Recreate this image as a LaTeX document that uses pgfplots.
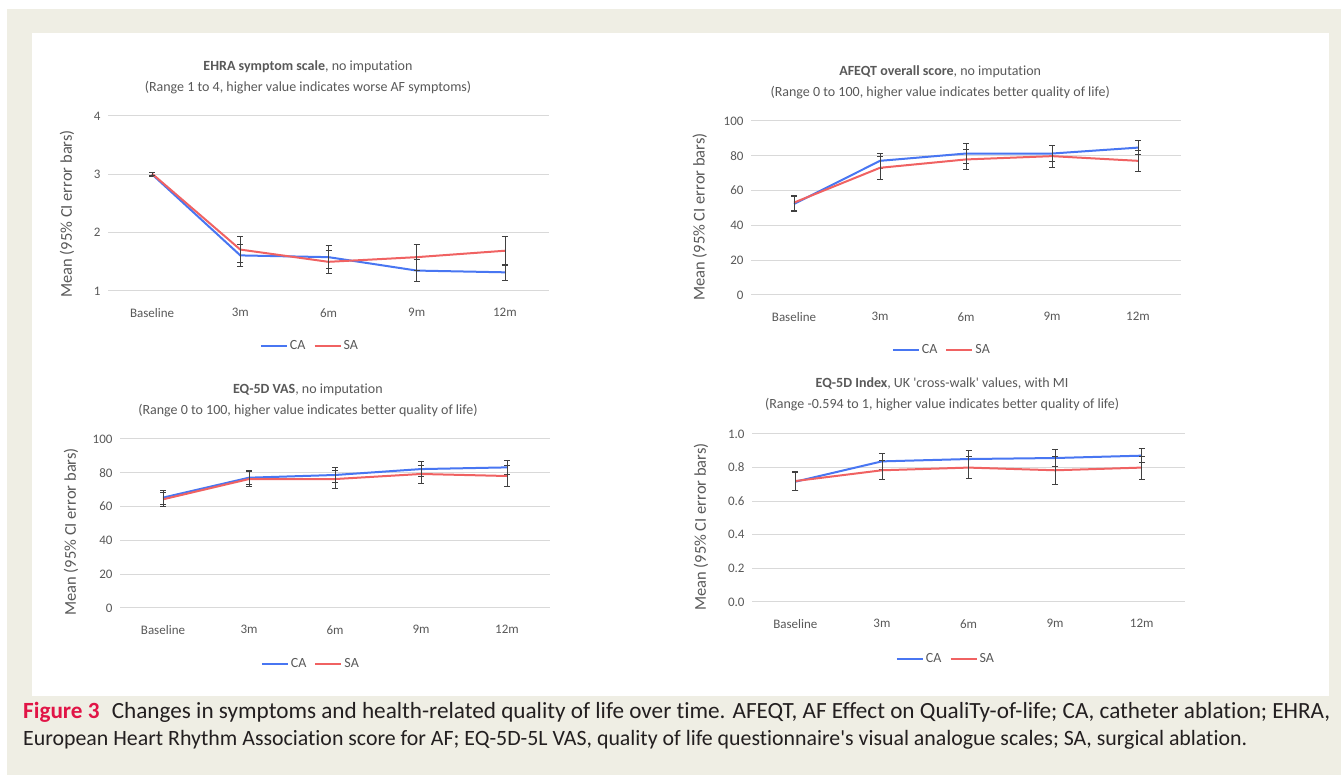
\documentclass[border=0pt]{standalone}
\usepackage{fontspec}
\setmainfont{Carlito}[Ligatures={TeX,NoCommon}]
\usepackage{pgfplots}
\pgfplotsset{compat=1.18}

\definecolor{bgbeige}{RGB}{239,238,228}
\definecolor{cablue}{RGB}{72,118,242}
\definecolor{sared}{RGB}{240,98,98}
\definecolor{txtgray}{RGB}{89,89,89}
\definecolor{gridgray}{RGB}{217,217,217}
\definecolor{errgray}{RGB}{64,64,64}
\definecolor{figred}{RGB}{225,20,70}
\definecolor{captxt}{RGB}{35,31,32}

\pgfplotsset{
  panel/.style={
    scale only axis,
    anchor=south west,
    xmin=-0.5, xmax=4.5,
    xtick={0,...,4},
    xticklabels={Baseline,3m,6m,9m,12m},
    axis line style={draw=none},
    major tick length=0pt,
    ymajorgrids,
    grid style={gridgray, line width=1pt},
    tick label style={font=\fontsize{13}{15}\selectfont, text=txtgray},
    /pgf/number format/assume math mode=true,
    xticklabel style={yshift=-14pt},
    yticklabel style={xshift=-4pt},
    ylabel={Mean (95\% CI error bars)},
    every axis y label/.style={rotate=90, anchor=center,
      font=\fontsize{16.5}{18}\selectfont, text=txtgray},
    title style={anchor=center, align=center,
      font=\fontsize{14}{21}\selectfont, text=txtgray},
    legend columns=2,
    legend style={draw=none, fill=none, anchor=center,
      font=\fontsize{14}{16}\selectfont, text=txtgray,
      /tikz/every even column/.append style={column sep=6pt}},
    legend image code/.code={\draw[##1] (0pt,0pt) -- (26pt,0pt);},
    error bars/y dir=both,
    error bars/y explicit,
    error bars/error bar style={errgray, line width=0.8pt},
    error bars/error mark options={rotate=90, errgray, mark size=3pt, line width=0.8pt},
  },
  ca/.style={cablue, line width=2pt, mark=none},
  sa/.style={sared, line width=2pt, mark=none},
}

\begin{document}
\begin{tikzpicture}[x=1pt,y=1pt]
  % page, beige frame and white chart panel
  \fill[white] (0,0) rectangle (1341,775);
  \fill[bgbeige] (7,0) rectangle (1341,766);
  \fill[white] (32,79) rectangle (1329,742);

  % EHRA symptom scale
  \begin{axis}[panel,
    at={(108pt,484pt)}, width=441pt, height=175pt,
    ymin=1, ymax=4, ytick={1,2,3,4},
    title={\textbf{EHRA symptom scale}, no imputation\\(Range 1 to 4, higher value indicates worse AF symptoms)},
    title style={at={(axis description cs:0.4535,1.185)}},
    ylabel style={at={(axis description cs:-0.093,0.44)}},
    legend style={at={(axis description cs:0.458,-0.314)}},
  ]
    \addplot[ca] coordinates {
      (0,3.00) +- (0,0.03)
      (1,1.61) +- (0,0.19)
      (2,1.58) +- (0,0.195)
      (3,1.35) +- (0,0.185)
      (4,1.32) +- (0,0.14)
    };
    \addplot[sa] coordinates {
      (0,3.01) +- (0,0.03)
      (1,1.71) +- (0,0.225)
      (2,1.50) +- (0,0.195)
      (3,1.58) +- (0,0.22)
      (4,1.69) +- (0,0.25)
    };
    \legend{CA,SA}
  \end{axis}

  % AFEQT overall score
  \begin{axis}[panel,
    at={(751pt,480pt)}, width=430pt, height=174pt,
    ymin=0, ymax=100, ytick={0,20,...,100},
    title={\textbf{AFEQT overall score}, no imputation\\(Range 0 to 100, higher value indicates better quality of life)},
    title style={at={(axis description cs:0.44,1.187)}},
    ylabel style={at={(axis description cs:-0.119,0.448)}},
    legend style={at={(axis description cs:0.444,-0.316)}},
  ]
    \addplot[ca] coordinates {
      (0,52.3) +- (0,4.2)
      (1,77.1) +- (0,4.2)
      (2,81.3) +- (0,5.6)
      (3,81.3) +- (0,4.8)
      (4,84.7) +- (0,3.9)
    };
    \addplot[sa] coordinates {
      (0,53.1) +- (0,4.4)
      (1,73.1) +- (0,6.7)
      (2,77.9) +- (0,5.9)
      (3,79.8) +- (0,6.3)
      (4,77.1) +- (0,6.1)
    };
    \legend{CA,SA}
  \end{axis}

  % EQ-5D VAS
  \begin{axis}[panel,
    at={(120pt,167pt)}, width=430pt, height=169pt,
    ymin=0, ymax=100, ytick={0,20,...,100},
    title={\textbf{EQ-5D VAS}, no imputation\\(Range 0 to 100, higher value indicates better quality of life)},
    title style={at={(axis description cs:0.437,1.193)}},
    ylabel style={at={(axis description cs:-0.114,0.45)}},
    legend style={at={(axis description cs:0.444,-0.331)}},
  ]
    \addplot[ca] coordinates {
      (0,65.3) +- (0,4.2)
      (1,77.1) +- (0,4.2)
      (2,78.7) +- (0,4.5)
      (3,82.2) +- (0,4.4)
      (4,83.2) +- (0,4.2)
    };
    \addplot[sa] coordinates {
      (0,64.3) +- (0,4.3)
      (1,76.3) +- (0,4.5)
      (2,76.3) +- (0,5.3)
      (3,79.3) +- (0,5.3)
      (4,78.1) +- (0,6.3)
    };
    \legend{CA,SA}
  \end{axis}

  % EQ-5D index
  \begin{axis}[panel,
    at={(752pt,173pt)}, width=433pt, height=168pt,
    ymin=0, ymax=1, ytick={0,0.2,...,1.0},
    yticklabel style={/pgf/number format/.cd, fixed, fixed zerofill, precision=1},
    title={\textbf{EQ-5D Index}, UK \textquotesingle cross-walk\textquotesingle{} values, with MI\\(Range -0.594 to 1, higher value indicates better quality of life)},
    title style={at={(axis description cs:0.439,1.199)}},
    ylabel style={at={(axis description cs:-0.118,0.446)}},
    legend style={at={(axis description cs:0.448,-0.339)}},
  ]
    \addplot[ca] coordinates {
      (0,0.716) +- (0,0.054)
      (1,0.837) +- (0,0.046)
      (2,0.851) +- (0,0.050)
      (3,0.857) +- (0,0.050)
      (4,0.871) +- (0,0.043)
    };
    \addplot[sa] coordinates {
      (0,0.720) +- (0,0.055)
      (1,0.784) +- (0,0.056)
      (2,0.800) +- (0,0.065)
      (3,0.784) +- (0,0.083)
      (4,0.800) +- (0,0.068)
    };
    \legend{CA,SA}
  \end{axis}

  % caption
  \node[anchor=base west, inner sep=0pt, text=captxt] at (23,56)
    {\resizebox{1307pt}{!}{\fontsize{21.5}{25}\selectfont\textcolor{figred}{\textbf{Figure 3}}\hspace{0.3em} Changes in symptoms and health-related quality of life over time. AFEQT, AF Effect on QualiTy-of-life; CA, catheter ablation; EHRA,}};
  \node[anchor=base west, inner sep=0pt, text=captxt] at (23,29)
    {\resizebox{1224pt}{!}{\fontsize{21.5}{25}\selectfont European Heart Rhythm Association score for AF; EQ-5D-5L VAS, quality of life questionnaire\textquotesingle s visual analogue scales; SA, surgical ablation.}};
\end{tikzpicture}
\end{document}
